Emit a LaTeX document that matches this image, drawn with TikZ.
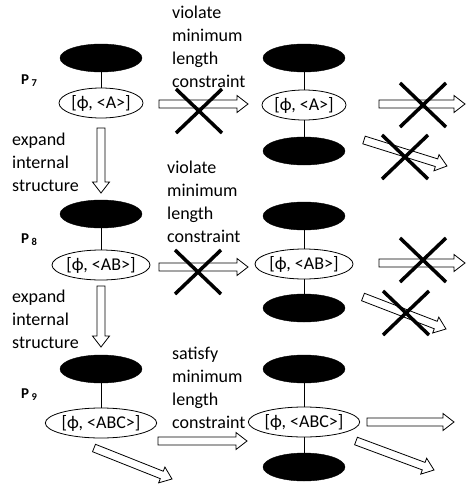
\documentclass[tikz,border=0pt]{standalone}
\usepackage{fontspec}
\setmainfont{Carlito}
\usetikzlibrary{shapes.geometric,calc}

% hollow block arrow from #1 to #2 (shaft half width, head half width, head length)
\newcommand\hs{4pt}
\newcommand\hw{8.5pt}
\newcommand\hh{11pt}
\newcommand\hollowarrow[2]{%
  \draw[arrowbody]
    ($(#1)!\hs!90:(#2)$)
    -- ($(#2)!\hh!(#1)!\hs!-90:(#1)$)
    -- ($(#2)!\hh!(#1)!\hw!-90:(#1)$)
    -- (#2)
    -- ($(#2)!\hh!(#1)!\hw!90:(#1)$)
    -- ($(#2)!\hh!(#1)!\hs!90:(#1)$)
    -- ($(#1)!\hs!-90:(#2)$)
    -- cycle;}
% a heavy X struck over a transition
\newcommand\strike[1]{%
  \draw[cross] ($(#1)+(-23,-22)$) -- ($(#1)+(23,22)$)
               ($(#1)+(-23,22)$) -- ($(#1)+(23,-22)$);}

\begin{document}
\begin{tikzpicture}[x=1pt,y=-1pt,
  state/.style={ellipse, draw, line width=0.8pt, inner sep=0pt,
    minimum height=30pt, font=\fontsize{18}{22}\selectfont},
  blob/.style={ellipse, fill=black, draw=black, inner sep=0pt,
    minimum width=82pt, minimum height=28pt},
  link/.style={line width=0.8pt},
  arrowbody/.style={draw, fill=white, line width=0.8pt, line join=miter},
  cross/.style={line width=3.5pt},
  note/.style={anchor=north west, align=left, inner sep=0pt,
    font=\fontsize{18}{23}\selectfont},
  plabel/.style={inner sep=0pt, font=\bfseries\fontsize{15}{17}\selectfont}]

\useasboundingbox (0,0) rectangle (466,485);

% ---- left column: patterns P7, P8, P9
\node[blob] (l1b) at (101,58) {};
\node[state, minimum width=78pt] (l1w) at (101,103) {[ϕ, <A>]};
\draw[link] (l1b) -- (l1w);
\node[plabel] (p7) at (29,81) {P\,\raisebox{-2pt}{\fontsize{10.5}{12}\selectfont 7}};

\node[blob] (l2b) at (101,214) {};
\node[state, minimum width=98pt] (l2w) at (101,265) {[ϕ, <AB>]};
\draw[link] (l2b) -- (l2w);
\node[plabel] (p8) at (29,240) {P\,\raisebox{-2pt}{\fontsize{10.5}{12}\selectfont 8}};

\node[blob] (l3b) at (101,369) {};
\node[state, minimum width=106pt] (l3w) at (101,423) {[ϕ, <ABC>]};
\draw[link] (l3b) -- (l3w);
\node[plabel] (p9) at (29,395) {P\,\raisebox{-2pt}{\fontsize{10.5}{12}\selectfont 9}};

% ---- middle column: extended patterns
\node[blob] (m1t) at (304,58) {};
\node[state, minimum width=80pt] (m1w) at (304,105) {[ϕ, <A>]};
\node[blob] (m1b) at (304,151) {};
\draw[link] (m1t) -- (m1w) -- (m1b);

\node[blob] (m2t) at (304,216) {};
\node[state, minimum width=98pt] (m2w) at (304,264) {[ϕ, <AB>]};
\node[blob] (m2b) at (304,308) {};
\draw[link] (m2t) -- (m2w) -- (m2b);

\node[blob] (m3t) at (304,369) {};
\node[state, minimum width=104pt] (m3w) at (304,422) {[ϕ, <ABC>]};
\node[blob] (m3b) at (304,467) {};
\draw[link] (m3t) -- (m3w) -- (m3b);

% ---- arrow end points
\coordinate (d1s) at (101,128);  \coordinate (d1e) at (101,193);
\coordinate (d2s) at (101,286);  \coordinate (d2e) at (101,347);
\coordinate (h1s) at (159,104);  \coordinate (h1e) at (248,104);
\coordinate (h2s) at (159,267);  \coordinate (h2e) at (248,267);
\coordinate (h3s) at (158,441);  \coordinate (h3e) at (247,441);
\coordinate (r1s) at (379,104);  \coordinate (r1e) at (465,104);
\coordinate (r2s) at (379,263);  \coordinate (r2e) at (465,263);
\coordinate (r3s) at (367,422);  \coordinate (r3e) at (454,422);
\coordinate (q1s) at (364,140);  \coordinate (q1e) at (447,166);
\coordinate (q2s) at (363,297);  \coordinate (q2e) at (446,329);
\coordinate (q3s) at (356,441);  \coordinate (q3e) at (434,470);
\coordinate (q0s) at (94,448);   \coordinate (q0e) at (172,479);

\hollowarrow{d1s}{d1e}
\hollowarrow{d2s}{d2e}
\hollowarrow{h1s}{h1e}
\hollowarrow{h2s}{h2e}
\hollowarrow{h3s}{h3e}
\hollowarrow{r1s}{r1e}
\hollowarrow{r2s}{r2e}
\hollowarrow{r3s}{r3e}
\hollowarrow{q1s}{q1e}
\hollowarrow{q2s}{q2e}
\hollowarrow{q3s}{q3e}
\hollowarrow{q0s}{q0e}

% ---- rejected transitions
\coordinate (x1) at (199,111);
\coordinate (x2) at (198,272);
\coordinate (x3) at (423,105);
\coordinate (x4) at (405,157);
\coordinate (x5) at (423,260);
\coordinate (x6) at (406,313);
\strike{x1}\strike{x2}\strike{x3}\strike{x4}\strike{x5}\strike{x6}

% ---- annotations
\node[note] (t1) at (172,6) {violate\\minimum\\length\\constraint};
\node[note] (t2) at (167,161) {violate\\minimum\\length\\constraint};
\node[note] (t3) at (172,347) {satisfy\\minimum\\length\\constraint};
\node[note] (e1) at (12,133) {expand\\internal\\structure};
\node[note] (e2) at (12,290) {expand\\internal\\structure};
\end{tikzpicture}
\end{document}
